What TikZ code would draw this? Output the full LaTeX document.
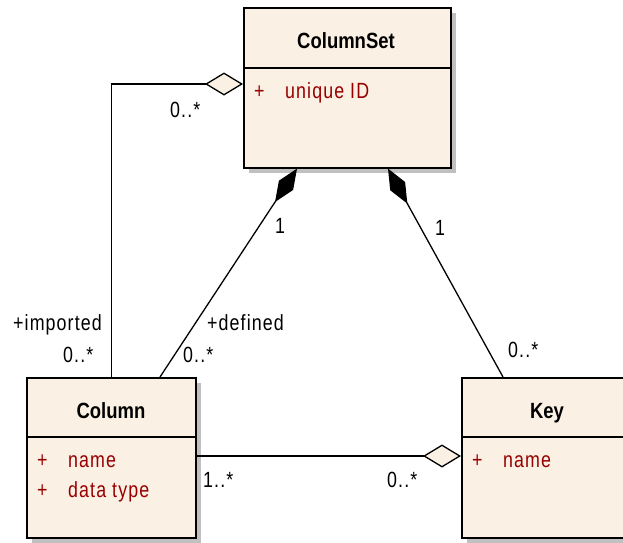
\documentclass[tikz,border=0pt]{standalone}
\usepackage{fontspec}
\usetikzlibrary{arrows.meta,shadows}
\newfontfamily\lblfont{Liberation Sans}[FakeStretch=0.81,LetterSpace=5]
\newfontfamily\ttlfont{Liberation Sans}[FakeStretch=0.84]
\definecolor{boxfill}{RGB}{251,240,228}
\definecolor{attrred}{RGB}{150,0,0}
\definecolor{shadowgray}{RGB}{192,192,192}
\begin{document}
\begin{tikzpicture}[x=1pt,y=-1pt,
  umlbox/.style={draw=black, line width=1.6pt, fill=boxfill, anchor=north west, inner sep=0, minimum height=160pt,
    drop shadow={shadow xshift=5pt, shadow yshift=-5pt, fill=shadowgray, opacity=1}},
  title/.style={font=\ttlfont\bfseries\fontsize{22}{25}\selectfont, inner sep=0, anchor=base},
  attr/.style={font=\lblfont\fontsize{22}{25}\selectfont, text=attrred, inner sep=0, anchor=base west},
  lbl/.style={font=\lblfont\fontsize{22}{25}\selectfont, inner sep=0, anchor=base west},
  conn/.style={line width=1.3pt, draw=black},
  sepline/.style={line width=1.3pt, draw=black},
  agg/.style={-{Diamond[length=38pt,width=23pt,fill=boxfill]}},
  comp/.style={-{Diamond[length=40pt,width=17pt,fill=black]}},
]
\useasboundingbox (0,0) rectangle (623,542);
\clip (0,0) rectangle (623,542);
\fill[white] (0,0) rectangle (623,542);

% boxes
\node[umlbox, minimum width=207pt] (colset) at (243,7) {};
\node[umlbox, minimum width=169pt] (column) at (26,377) {};
\node[umlbox, minimum width=172pt] (key) at (461,377) {};

\draw[sepline] ([yshift=-61pt]colset.north west) -- ([yshift=-61pt]colset.north east);
\draw[sepline] ([yshift=-60pt]column.north west) -- ([yshift=-60pt]column.north east);
\draw[sepline] ([yshift=-60pt]key.north west) -- ([yshift=-60pt]key.north east);

% titles
\node[title] (tcolset) at (346,48) {ColumnSet};
\node[title] (tcolumn) at (111,418) {Column};
\node[title] (tkey) at (547,418) {Key};

% attributes
\node[attr] (p1) at (254,98) {+};
\node[attr] (a1) at (285,98) {unique ID};
\node[attr] (p2) at (37,467) {+};
\node[attr] (a2) at (68,467) {name};
\node[attr] (p3) at (37,497) {+};
\node[attr] (a3) at (68,497) {data type};
\node[attr] (p4) at (472,467) {+};
\node[attr] (a4) at (503,467) {name};

% connectors
\draw[conn,agg] (column.north) |- ([yshift=-77pt]colset.north west);
\draw[conn,comp] ([xshift=134pt]column.north west) -- ([xshift=54pt]colset.south west);
\draw[conn,comp] ([xshift=42pt]key.north west) -- ([xshift=145pt]colset.south west);
\draw[conn,agg] ([yshift=-79pt]column.north east) -- ([yshift=-79pt]key.north west);

% labels
\node[lbl] (l1) at (170,117) {0..*};
\node[lbl] (l2) at (275,233) {1};
\node[lbl] (l3) at (435,235) {1};
\node[lbl] (l4) at (13,330) {+imported};
\node[lbl] (l5) at (63,362) {0..*};
\node[lbl] (l6) at (207,330) {+defined};
\node[lbl] (l7) at (183,362) {0..*};
\node[lbl] (l8) at (508,357) {0..*};
\node[lbl] (l9) at (203,487) {1..*};
\node[lbl] (l10) at (387,487) {0..*};
\end{tikzpicture}
\end{document}
